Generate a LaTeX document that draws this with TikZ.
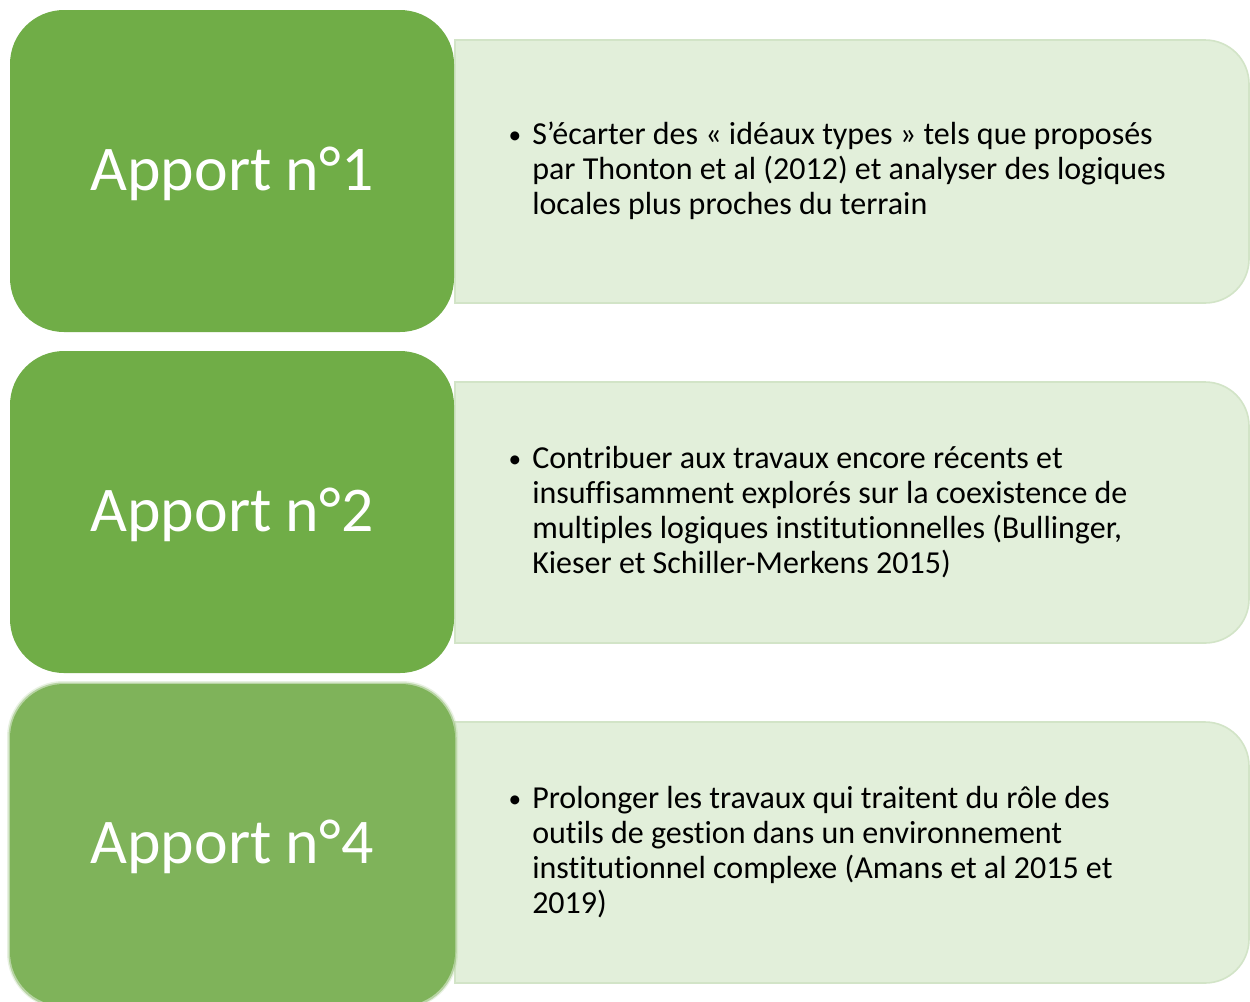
\documentclass[tikz,border=0pt]{standalone}
\usepackage{fontspec}
\setmainfont{Carlito}[Ligatures={NoCommon,TeX}]
\definecolor{greenA}{HTML}{70AD47}
\definecolor{greenB}{HTML}{7FB35A}
\definecolor{lightfill}{HTML}{E2EFDA}
\definecolor{lightborder}{HTML}{D2E4C7}
\newcommand\lightpanel[2]{\draw[lightbox] (455,#1) -- (1205,#1) arc[start angle=270,end angle=360,radius=44] -- (1249,{#2-44}) arc[start angle=0,end angle=90,radius=44] -- (455,#2) -- cycle;}
\begin{document}
\begin{tikzpicture}[x=0.75pt,y=-0.75pt,
  apport/.style={text=white,font=\fontsize{47.8}{57}\selectfont,anchor=base,inner sep=0pt},
  txtline/.style={anchor=base west,inner sep=0pt,font=\fontsize{24}{28}\selectfont,text=black},
  bul/.style={anchor=base,inner sep=0pt,font=\fontsize{19}{22}\selectfont,text=black},
  lightbox/.style={fill=lightfill,draw=lightborder,line width=1.2pt},
  greenbox/.style={fill=greenA,rounded corners=40.5pt}]
\useasboundingbox (0,0) rectangle (1250,1001);
\clip (0,0) rectangle (1250,1001);
\fill[white] (0,0) rectangle (1250,1001);
% light panels
\lightpanel{40}{303}
\lightpanel{382}{643}
\lightpanel{722}{983}
% green boxes
\fill[greenbox] (10,10) rectangle (454,332);
\fill[greenbox] (10,351) rectangle (454,673);
\fill[greenB!50!white,rounded corners=42pt,opacity=0.35] (7,681) rectangle (458,1009);
\fill[greenB!80!white,rounded corners=41pt,opacity=0.6] (8.5,682.5) rectangle (456.5,1008);
\fill[greenB,rounded corners=40.5pt] (10,684) rectangle (455,1006);
% titles
\node[apport] (a1) at (232,190) {Apport n°1};
\node[apport] (a2) at (232,531) {Apport n°2};
\node[apport] (a4) at (232,863) {Apport n°4};
% texts box 1
\node[bul] (b1) at (515,143) {•};
\node[txtline] (t1a) at (532,144) {S’écarter des « idéaux types » tels que proposés};
\node[txtline] (t1b) at (532,179) {par Thonton et al (2012) et analyser des logiques};
\node[txtline] (t1c) at (532,214) {locales plus proches du terrain};
% texts box 2
\node[bul] (b2) at (515,467) {•};
\node[txtline] (t2a) at (532,468) {Contribuer aux travaux encore récents et};
\node[txtline] (t2b) at (532,503) {insuffisamment explorés sur la coexistence de};
\node[txtline] (t2c) at (532,538) {multiples logiques institutionnelles (Bullinger,};
\node[txtline] (t2d) at (532,573) {Kieser et Schiller-Merkens 2015)};
% texts box 3
\node[bul] (b3) at (515,807) {•};
\node[txtline] (t3a) at (532,808) {Prolonger les travaux qui traitent du rôle des};
\node[txtline] (t3b) at (532,843) {outils de gestion dans un environnement};
\node[txtline] (t3c) at (532,878) {institutionnel complexe (Amans et al 2015 et};
\node[txtline] (t3d) at (532,913) {2019)};
\end{tikzpicture}
\end{document}
